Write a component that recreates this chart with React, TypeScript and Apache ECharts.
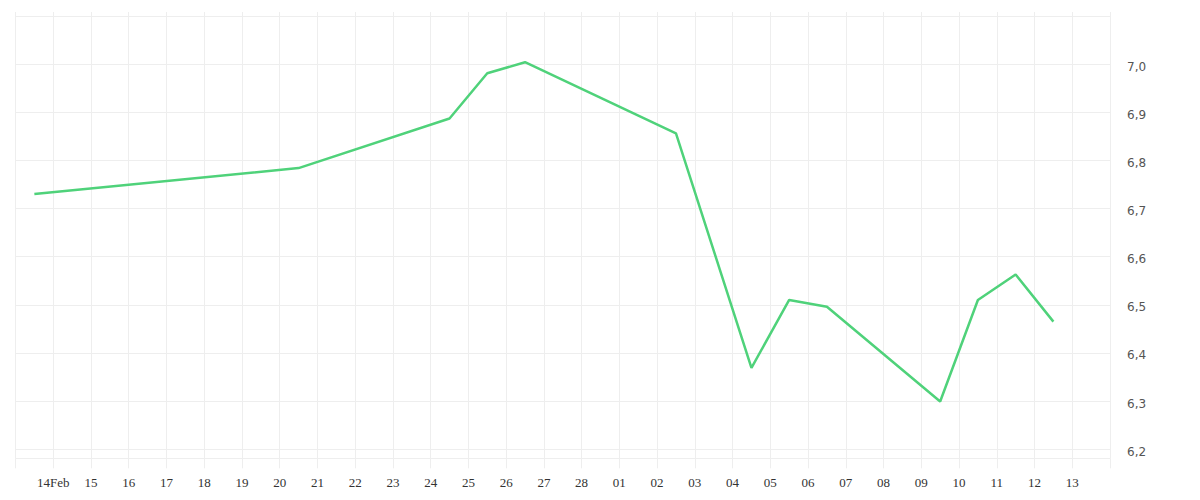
import { useEffect, useRef } from 'react';
import * as echarts from 'echarts';

// dates of the points (noon of each day) and their values
const pointDates = [
  '2019-02-13', '2019-02-20', '2019-02-24', '2019-02-25', '2019-02-26',
  '2019-03-02', '2019-03-04', '2019-03-05', '2019-03-06', '2019-03-09',
  '2019-03-10', '2019-03-11', '2019-03-12'
];
const pointValues = [
  6.730, 6.784, 6.887, 6.981, 7.004,
  6.856, 6.369, 6.510, 6.496, 6.299,
  6.510, 6.563, 6.465
];

const axisStart = '2019-02-13';
const axisEnd = '2019-03-14';
const yMin = 6.181;
const yMax = 7.1;

const DAY = 86400000;

function toTime(date: string, hour = 0) {
  const [y, m, d] = date.split('-').map(Number);
  return new Date(y, m - 1, d, hour).getTime();
}

export default function App() {
  const chartRef = useRef<HTMLDivElement>(null);

  useEffect(() => {
    if (!chartRef.current) return;
    const chart = echarts.init(chartRef.current, null, { renderer: 'svg' });

    const gridColor = '#eeeeee';
    const xMin = toTime(axisStart);
    const xMax = toTime(axisEnd);

    const option: echarts.EChartsOption = {
      animation: false,
      grid: { left: 15.5, right: 90, top: 16, bottom: 41.7 },
      xAxis: [
        {
          type: 'time',
          min: xMin,
          max: xMax,
          minInterval: DAY,
          maxInterval: DAY,
          axisLine: { show: false },
          axisTick: { show: true, length: 10, lineStyle: { color: gridColor } },
          splitLine: { show: true, lineStyle: { color: gridColor } },
          axisLabel: {
            hideOverlap: false,
            margin: 18,
            color: '#333',
            fontFamily: 'Liberation Serif',
            fontSize: 13,
            formatter: (v: number) => {
              // the edges of the axis carry no label
              if (v <= xMin || v >= xMax) return '';
              const d = new Date(v);
              const day = String(d.getDate()).padStart(2, '0');
              return d.getMonth() === 1 && d.getDate() === 14 ? day + 'Feb' : day;
            }
          }
        },
        {
          type: 'time',
          position: 'top',
          min: xMin,
          max: xMax,
          minInterval: DAY,
          maxInterval: DAY,
          axisLine: { show: false },
          axisTick: { show: true, length: 4, lineStyle: { color: gridColor } },
          splitLine: { show: false },
          axisLabel: { show: false }
        }
      ],
      yAxis: {
        type: 'value',
        position: 'right',
        min: yMin,
        max: yMax,
        splitNumber: 9,
        axisLine: { show: false },
        axisTick: { show: false },
        splitLine: { show: true, lineStyle: { color: gridColor } },
        axisLabel: {
          showMinLabel: false,
          showMaxLabel: false,
          margin: 17,
          formatter: (v: number) => '{v|' + v.toFixed(1).replace('.', ',') + '}',
          rich: {
            v: {
              color: '#555',
              fontFamily: 'DejaVu Sans',
              fontSize: 12,
              padding: [5, 0, 0, 0]
            }
          }
        }
      },
      series: [
        {
          type: 'line',
          data: pointDates.map((d, i) => [toTime(d, 12), pointValues[i]]),
          symbol: 'none',
          lineStyle: { color: '#4fd27a', width: 2.5 }
        }
      ]
    };

    chart.setOption(option);
    return () => chart.dispose();
  }, []);

  return (
    <div
      ref={chartRef}
      style={{ position: 'fixed', left: 0, top: 0, width: 1200, height: 500, background: '#fff' }}
    />
  );
}
